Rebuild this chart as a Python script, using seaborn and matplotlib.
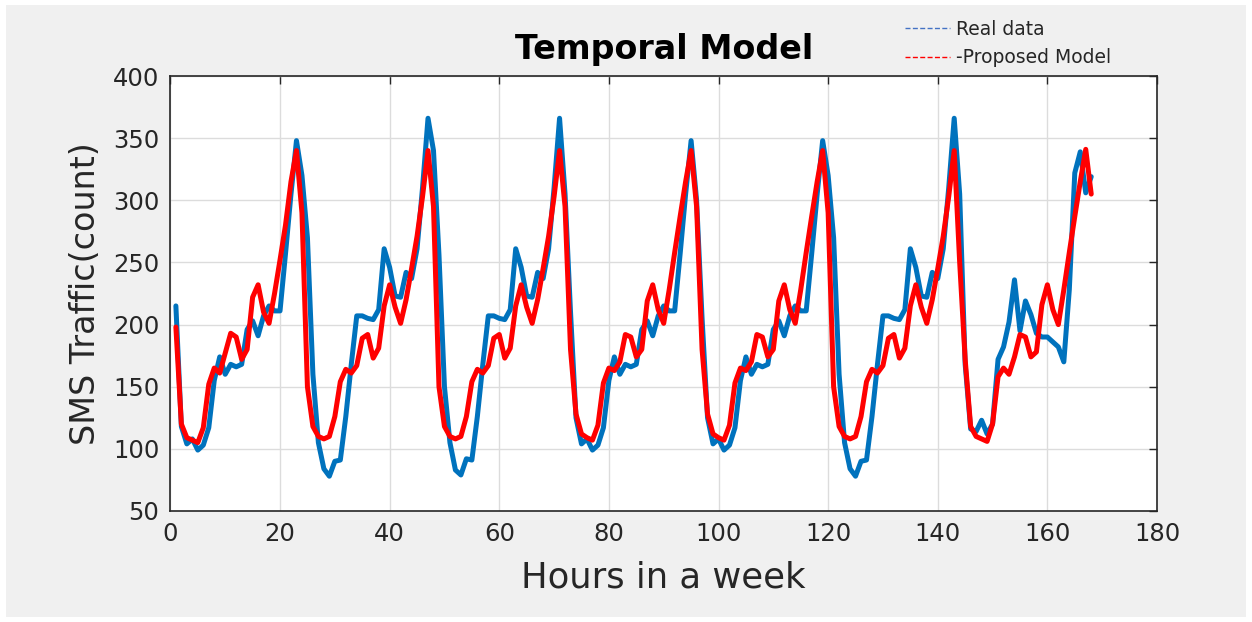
import numpy as np
import pandas as pd
import matplotlib
matplotlib.use("Agg")
import matplotlib.pyplot as plt
from matplotlib.lines import Line2D
from matplotlib.patches import Rectangle
import seaborn as sns

# Hourly SMS counts over one week, one list per day.
# Day 1 covers hours 1-23, days 2-6 cover 24 hours each, day 7 runs to hour 168.
real_day1 = [215, 118, 104, 108, 99, 103, 117, 155, 174, 160, 168, 166, 168, 196, 203, 191, 207, 215, 211, 211, 257, 305, 348]
real_day2 = [320, 270, 160, 105, 84, 78, 90, 91, 126, 168, 207, 207, 205, 204, 212, 261, 246, 223, 222, 242, 237, 261, 310, 366]
real_day3 = [340, 256, 150, 105, 83, 79, 92, 91, 126, 168, 207, 207, 205, 204, 212, 261, 246, 223, 222, 242, 237, 261, 310, 366]
real_day4 = [305, 210, 125, 104, 108, 99, 103, 117, 155, 174, 160, 168, 166, 168, 196, 203, 191, 207, 215, 211, 211, 257, 305, 348]
real_day5 = [300, 205, 125, 104, 108, 99, 103, 117, 155, 174, 160, 168, 166, 168, 196, 203, 191, 207, 215, 211, 211, 257, 305, 348]
real_day6 = [320, 270, 160, 105, 84, 78, 90, 91, 126, 168, 207, 207, 205, 204, 212, 261, 246, 223, 222, 242, 237, 261, 310, 366]
real_day7 = [305, 168, 116, 114, 123, 112, 120, 172, 182, 202, 236, 195, 219, 208, 193, 190, 190, 186, 182, 170, 228, 322, 339, 306, 319]

model_day1 = [198, 120, 109, 107, 105, 117, 152, 165, 161, 177, 193, 190, 172, 180, 222, 232, 210, 201, 225, 252, 280, 315, 340]
model_day2 = [290, 150, 118, 110, 108, 110, 126, 154, 164, 161, 167, 189, 192, 173, 181, 215, 232, 214, 201, 220, 245, 271, 303, 340]
model_day3 = [295, 150, 118, 110, 108, 110, 126, 154, 164, 161, 167, 189, 192, 173, 181, 215, 232, 214, 201, 220, 245, 271, 303, 340]
model_day4 = [295, 180, 128, 112, 109, 107, 119, 153, 165, 163, 170, 192, 190, 174, 180, 219, 232, 212, 201, 228, 258, 287, 315, 340]
model_day5 = [295, 180, 128, 112, 109, 107, 119, 153, 165, 163, 170, 192, 190, 174, 180, 219, 232, 212, 201, 228, 258, 287, 315, 340]
model_day6 = [290, 150, 118, 110, 108, 110, 126, 154, 164, 161, 167, 189, 192, 173, 181, 215, 232, 214, 201, 220, 245, 271, 303, 340]
model_day7 = [250, 172, 118, 110, 108, 106, 120, 158, 165, 160, 174, 192, 190, 174, 178, 216, 232, 212, 200, 228, 258, 287, 315, 341, 305]

x_ticks = [0, 20, 40, 60, 80, 100, 120, 140, 160, 180]
y_ticks = [50, 100, 150, 200, 250, 300, 350, 400]

real = np.concatenate([real_day1, real_day2, real_day3, real_day4, real_day5, real_day6, real_day7])
model = np.concatenate([model_day1, model_day2, model_day3, model_day4, model_day5, model_day6, model_day7])
hours = np.arange(1, len(real) + 1)

df = pd.DataFrame({
    "hour": np.concatenate([hours, hours]),
    "count": np.concatenate([real, model]),
    "series": ["Real data"] * len(real) + ["Proposed Model"] * len(model),
})

sns.set_theme(style="white")
plt.rcParams["font.family"] = ["DejaVu Sans"]

W, H = 1252, 622
fig = plt.figure(figsize=(W / 100, H / 100), dpi=100, facecolor="white")
# grey window background inside a thin white margin
fig.patches.append(Rectangle((6 / W, 5 / H), 1240 / W, 612 / H, transform=fig.transFigure,
                             facecolor="#f0f0f0", edgecolor="none", zorder=-10))

ax = fig.add_axes([170.4 / W, 1 - 511 / H, (1157 - 170.4) / W, (511 - 76) / H])
ax.set_facecolor("white")

sns.lineplot(data=df, x="hour", y="count", hue="series",
             palette={"Real data": "#0072BD", "Proposed Model": "#FF0000"},
             linewidth=3.6, legend=False, ax=ax)

ax.set_xlim(0, 180)
ax.set_ylim(50, 400)
ax.set_xticks(x_ticks)
ax.set_yticks(y_ticks)
ax.grid(True, color="#dcdcdc", linewidth=1)
ax.set_axisbelow(True)
ax.tick_params(direction="in", top=True, right=True, length=6, width=1,
               colors="#262626", labelsize=17.5, pad=8)
for s in ax.spines.values():
    s.set_color("#262626")
    s.set_linewidth(1.2)

ax.set_xlabel("Hours in a week", fontsize=25.5, color="#262626", labelpad=10)
ax.set_ylabel("SMS Traffic(count)", fontsize=24, color="#262626", labelpad=8)
ax.set_title("Temporal Model", fontsize=24, fontweight="bold", color="black", pad=12)

handles = [
    Line2D([], [], color="#4472C4", linewidth=1.0, linestyle=(0, (3.6, 1.7))),
    Line2D([], [], color="#FF0000", linewidth=1.0, linestyle=(0, (3.6, 1.7))),
]
fig.legend(handles, ["Real data", "-Proposed Model"], loc="upper left",
           bbox_to_anchor=(905 / W, 1 - 20 / H), frameon=False,
           prop={"family": "DejaVu Sans", "size": 13.5},
           handlelength=2.4, handletextpad=0.3, labelspacing=0.5,
           borderpad=0, borderaxespad=0)

fig.savefig("out.png", dpi=100, facecolor=fig.get_facecolor())
